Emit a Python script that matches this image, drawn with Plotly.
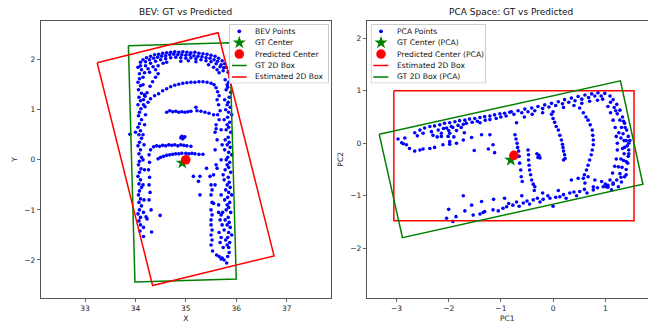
import plotly.graph_objects as go

W, H = 648, 326

# ---------------- BEV data (X, Y) ----------------
bev_top_arch = [
    (34.05, 1.85), (34.10, 1.95), (34.15, 2.00), (34.22, 2.04), (34.30, 2.07), (34.38, 2.10), (34.46, 2.11),
    (34.54, 2.13), (34.62, 2.14), (34.70, 2.15), (34.78, 2.16), (34.86, 2.15), (34.94, 2.16), (35.02, 2.15),
    (35.10, 2.14), (35.18, 2.15), (35.26, 2.13), (35.34, 2.12), (35.42, 2.11), (35.50, 2.09), (35.58, 2.07),
    (35.65, 2.03), (35.72, 1.98), (35.77, 1.92), (35.80, 1.85),
    (34.10, 1.88), (34.20, 1.96), (34.28, 2.00), (34.36, 2.03), (34.44, 2.05), (34.52, 2.07), (34.60, 2.08),
    (34.68, 2.10), (34.76, 2.11), (34.84, 2.10), (34.92, 2.10), (35.00, 2.09), (35.08, 2.10), (35.16, 2.08),
    (35.24, 2.07), (35.32, 2.06), (35.40, 2.04), (35.48, 2.03), (35.56, 2.00), (35.63, 1.97), (35.70, 1.90),
    (35.75, 1.84),
    (34.12, 1.80), (34.20, 1.88), (34.30, 1.93), (34.40, 1.97), (34.50, 2.00), (34.60, 2.02), (34.70, 2.04),
    (34.80, 2.05), (34.90, 2.04), (35.00, 2.03), (35.10, 2.04), (35.20, 2.02), (35.30, 2.00), (35.40, 1.98),
    (35.50, 1.96), (35.60, 1.92), (35.68, 1.86), (35.74, 1.78),
    (34.18, 1.74), (34.25, 1.82), (34.35, 1.86), (34.45, 1.88), (34.55, 1.93), (34.28, 1.75), (34.40, 1.80),
    (34.62, 1.95), (35.45, 1.90), (35.55, 1.85), (35.62, 1.80), (35.66, 1.74), (34.90, 1.97), (35.05, 1.98),
    (35.20, 1.96), (34.08, 1.72), (34.15, 1.65),
]

bev_left_side = [
    (34.08, 1.62), (34.05, 1.55), (34.10, 1.48), (34.06, 1.40), (34.12, 1.33), (34.07, 1.25), (34.10, 1.18),
    (34.05, 1.10), (34.11, 1.02), (34.08, 0.95), (34.06, 0.88), (34.12, 0.80), (34.08, 0.72), (34.05, 0.65),
    (34.10, 0.58), (34.07, 0.50), (34.12, 0.43), (34.08, 0.35), (34.05, 0.28), (34.10, 0.20), (34.07, 0.12),
    (34.12, 0.05), (34.08, -0.03), (34.06, -0.10), (34.11, -0.18), (34.08, -0.25), (34.05, -0.33), (34.10, -0.40),
    (34.07, -0.48), (34.12, -0.55), (34.08, -0.62), (34.06, -0.70), (34.10, -0.78), (34.07, -0.85), (34.12, -0.92),
    (34.08, -1.00), (34.05, -1.08), (34.10, -1.15), (34.07, -1.22), (34.10, -1.30),
    (34.15, 1.50), (34.18, 1.30), (34.16, 1.10), (34.20, 0.90), (34.18, 0.70), (34.15, 0.50), (34.17, 0.30),
    (34.15, 0.00), (34.18, -0.20), (34.15, -0.50), (34.17, -0.80), (34.16, -1.05),
    (34.45, 1.72), (34.40, 1.65), (34.34, 1.56), (34.29, 1.47), (34.23, 1.34), (34.19, 1.27), (34.16, 1.20),
    (34.27, 0.10), (34.28, -0.05), (34.26, -0.20), (34.28, -0.35), (34.27, -0.50), (34.29, -0.65), (34.27, -0.80),
    (34.31, -1.00), (34.21, -1.14), (34.23, -1.18), (34.49, -1.11), (34.16, -1.35), (34.09, -1.42),
    (34.32, -1.44), (34.16, -1.53), (33.89, 0.51), (34.00, 0.55),
]

bev_inner = [
    (34.19, 1.06), (34.25, 1.15), (34.30, 1.22), (34.38, 1.28), (34.46, 1.32), (34.54, 1.38), (34.62, 1.42),
    (34.70, 1.46), (34.78, 1.49), (34.86, 1.51), (34.94, 1.53), (35.02, 1.54), (35.10, 1.55), (35.18, 1.55),
    (35.26, 1.56), (35.34, 1.56), (35.42, 1.55), (35.50, 1.53), (35.56, 1.50),
    (34.62, 0.95), (34.68, 0.98), (34.74, 0.96), (34.80, 0.97), (34.86, 0.95), (34.92, 0.96), (34.98, 0.95),
    (35.04, 0.96), (35.10, 0.97), (35.20, 1.05), (35.22, 0.98), (35.30, 0.97), (35.38, 0.95), (35.46, 0.93),
    (35.55, 0.90),
    (34.92, 0.47), (34.96, 0.45), (34.94, 0.42), (34.98, 0.46), (34.90, 0.44),
    (34.30, 0.20), (34.36, 0.26), (34.42, 0.28), (34.48, 0.27), (34.54, 0.29), (34.60, 0.28), (34.66, 0.30),
    (34.72, 0.29), (34.78, 0.30), (34.84, 0.28), (34.90, 0.30), (34.96, 0.29), (35.02, 0.28), (35.10, 0.27),
    (34.45, 0.02), (34.50, 0.05), (34.56, 0.07), (34.62, 0.09), (34.68, 0.10), (34.74, 0.11), (34.80, 0.12),
    (34.86, 0.12), (34.92, 0.13), (35.00, 0.13), (35.06, 0.12), (35.12, 0.13), (35.18, 0.12), (35.26, 0.11),
    (35.34, 0.11),
    (35.15, -0.33), (35.25, -0.43), (35.28, -0.33), (35.41, -0.17), (35.48, -0.33), (35.28, -0.70),
    (35.55, -0.87), (35.58, -0.50),
]

bev_right_side = [
    (35.84, 1.75), (35.88, 1.65), (35.85, 1.55), (35.83, 1.45), (35.89, 1.35), (35.86, 1.25), (35.84, 1.15),
    (35.88, 1.05), (35.85, 0.95), (35.83, 0.85), (35.87, 0.75), (35.85, 0.65), (35.89, 0.55), (35.84, 0.45),
    (35.86, 0.35), (35.88, 0.25), (35.85, 0.15), (35.83, 0.05), (35.87, -0.05), (35.85, -0.15), (35.89, -0.25),
    (35.84, -0.35), (35.86, -0.45), (35.88, -0.55), (35.85, -0.65), (35.83, -0.75), (35.87, -0.85), (35.85, -0.95),
    (35.89, -1.05), (35.84, -1.15), (35.86, -1.25), (35.88, -1.35), (35.85, -1.45), (35.83, -1.55), (35.87, -1.65),
    (35.85, -1.75), (35.86, -1.85),
    (35.78, 1.60), (35.80, 1.40), (35.77, 1.20), (35.79, 1.00), (35.76, 0.80), (35.80, 0.60), (35.78, 0.40),
    (35.77, 0.20), (35.80, 0.00), (35.78, -0.20), (35.76, -0.40), (35.79, -0.60), (35.77, -0.80), (35.80, -1.00),
    (35.78, -1.20), (35.76, -1.40), (35.79, -1.60),
    (35.82, 1.50), (35.82, 1.10), (35.82, 0.70), (35.82, 0.30), (35.82, -0.10), (35.82, -0.50), (35.82, -0.90),
    (35.82, -1.30), (35.82, -1.70), (35.91, 0.90), (35.91, 0.10), (35.91, -0.70), (35.91, -1.50),
    (35.60, 1.44), (35.63, 1.36), (35.66, 1.28), (35.62, 1.20), (35.65, 1.10), (35.68, 0.98), (35.63, 0.90),
    (35.66, 0.80), (35.60, 0.70),
    (35.60, 0.62), (35.58, 0.55), (35.62, 0.40), (35.58, 0.20), (35.60, -0.10), (35.62, -0.17), (35.55, -0.30),
    (35.50, -0.50), (35.52, -0.60), (35.50, -0.70), (35.52, -0.85), (35.50, -1.00), (35.52, -1.10), (35.50, -1.20),
    (35.50, -1.30), (35.52, -1.40), (35.50, -1.50), (35.52, -1.60), (35.50, -1.70), (35.53, -1.82),
    (35.61, -1.90), (35.66, -1.93), (35.72, -1.96), (35.76, -2.00), (35.81, -2.06), (35.83, -1.93), (35.70, -1.98),
    (35.65, -1.05), (35.70, -1.10), (35.68, -1.20), (35.72, -1.30), (35.66, -1.45), (35.70, -1.55), (35.68, -1.65),
    (35.74, -1.75),
    (35.70, 0.60), (35.72, 0.30), (35.70, 0.00), (35.74, -0.30), (35.70, -0.70), (35.65, -0.90), (35.73, -1.05),
]

gt_center_bev = (34.93, -0.06)
pred_center_bev = (35.00, 0.00)
gt_box_bev_x = [33.86, 35.87, 36.00, 33.99, 33.86]
gt_box_bev_y = [2.28, 2.34, -2.38, -2.44, 2.28]
est_box_bev_x = [33.24, 35.64, 36.75, 34.34, 33.24]
est_box_bev_y = [1.94, 2.54, -1.92, -2.51, 1.94]

# ---------------- PCA data (PC1, PC2) ----------------
pca_upper_band = [
    (-2.65, 0.20), (-2.55, 0.25), (-2.46, 0.29), (-2.36, 0.32), (-2.27, 0.33), (-2.17, 0.35), (-2.08, 0.38),
    (-1.98, 0.39), (-1.88, 0.41), (-1.79, 0.43), (-1.69, 0.44), (-1.60, 0.46), (-1.50, 0.47), (-1.40, 0.49),
    (-1.31, 0.51), (-1.21, 0.52), (-1.12, 0.54), (-1.02, 0.56), (-0.93, 0.57), (-0.83, 0.59),
    (-2.60, 0.14), (-2.49, 0.19), (-2.33, 0.22), (-2.20, 0.25), (-2.14, 0.19), (-2.04, 0.29), (-1.98, 0.19),
    (-1.92, 0.30), (-1.82, 0.34), (-1.72, 0.36), (-1.66, 0.38), (-1.55, 0.40), (-1.45, 0.42), (-1.40, 0.39),
    (-1.30, 0.44), (-1.21, 0.45), (-1.09, 0.47), (-1.00, 0.50), (-0.90, 0.52),
    (-2.30, 0.15), (-2.22, 0.12), (-2.10, 0.28), (-2.00, 0.24), (-1.95, 0.32), (-1.90, 0.12), (-1.85, 0.24),
    (-1.76, 0.30), (-1.70, 0.20),
    (-2.14, 0.13), (-2.01, 0.13), (-1.98, 0.03), (-1.85, 0.00), (-1.72, 0.06), (-1.56, 0.11), (-1.37, 0.16),
    (-1.21, 0.16), (-1.15, -0.03), (-1.24, -0.11), (-1.12, -0.18), (-1.51, -0.14),
    (-2.97, 0.08), (-2.84, 0.10), (-2.90, 0.01), (-2.87, -0.01), (-2.81, -0.03), (-2.75, -0.10), (-2.65, -0.15),
    (-2.55, -0.13), (-2.49, -0.11), (-2.36, -0.10), (-2.27, -0.08), (-2.11, -0.03), (-1.98, -0.02),
    (-0.80, 0.60), (-0.67, 0.62), (-0.54, 0.65), (-0.41, 0.67), (-0.29, 0.70), (-0.16, 0.73), (-0.03, 0.76),
    (0.10, 0.79), (0.22, 0.83), (0.35, 0.86), (0.48, 0.89), (0.61, 0.92), (0.74, 0.94), (0.86, 0.96),
    (0.99, 0.95), (1.09, 0.90),
    (-0.75, 0.55), (-0.60, 0.58), (-0.48, 0.60), (-0.35, 0.62), (-0.20, 0.66), (-0.08, 0.69), (0.05, 0.72),
    (0.18, 0.75), (0.30, 0.78), (0.42, 0.81), (0.55, 0.84), (0.68, 0.87), (0.80, 0.90), (0.92, 0.90),
    (-0.55, 0.50), (-0.40, 0.55), (-0.20, 0.58), (0.00, 0.60), (0.20, 0.68), (0.40, 0.72), (0.55, 0.76),
    (0.70, 0.80), (0.85, 0.82), (0.95, 0.84),
]

pca_front_band = [
    (1.15, 0.83), (1.22, 0.74), (1.28, 0.63), (1.33, 0.50), (1.37, 0.38), (1.41, 0.25), (1.44, 0.13),
    (1.45, 0.00), (1.45, -0.13), (1.44, -0.25), (1.43, -0.38), (1.40, -0.50), (1.37, -0.64), (1.31, -0.74),
    (1.25, -0.83), (1.12, -0.89),
    (1.10, 0.78), (1.17, 0.68), (1.23, 0.56), (1.28, 0.44), (1.31, 0.30), (1.34, 0.18), (1.36, 0.05),
    (1.37, -0.08), (1.36, -0.20), (1.35, -0.33), (1.32, -0.46), (1.28, -0.58), (1.22, -0.70), (1.15, -0.78),
    (1.05, -0.84),
    (1.05, 0.70), (1.10, 0.58), (1.15, 0.44), (1.19, 0.30), (1.21, 0.13), (1.23, 0.00), (1.23, -0.13),
    (1.21, -0.30), (1.18, -0.44), (1.14, -0.57), (1.09, -0.70), (1.00, -0.78),
    (1.30, 0.10), (1.40, 0.05), (1.42, -0.05), (1.33, -0.10), (1.38, 0.30), (1.30, -0.30), (1.40, -0.35),
    (1.26, 0.20), (1.25, -0.45), (1.35, 0.42), (1.20, 0.62), (1.30, -0.65), (1.45, -0.20), (1.47, 0.05),
    (1.40, -0.60),
]

pca_inner_arcs = [
    (0.51, 0.67), (0.58, 0.58), (0.63, 0.50), (0.67, 0.44), (0.71, 0.35), (0.75, 0.25), (0.76, 0.15),
    (0.77, 0.06), (0.77, -0.03), (0.75, -0.13), (0.73, -0.22), (0.70, -0.32), (0.67, -0.42), (0.64, -0.51),
    (0.60, -0.60), (0.58, -0.67),
    (0.35, -0.70), (0.48, -0.67), (0.67, -0.64), (0.80, -0.70), (0.93, -0.73), (0.77, -0.83), (1.02, -0.83),
    (0.61, -0.76),
    (-0.03, 0.55), (0.00, 0.47), (0.03, 0.40), (0.06, 0.32), (0.10, 0.25), (0.13, 0.15), (0.16, 0.06),
    (0.18, -0.02), (0.19, -0.08), (0.20, -0.15), (0.22, -0.22), (0.23, -0.29), (0.20, -0.32),
    (-0.73, 0.16), (-0.71, 0.08), (-0.69, 0.00), (-0.68, -0.08), (-0.66, -0.15), (-0.65, -0.25), (-0.64, -0.38),
    (-0.62, -0.51), (-0.61, -0.64), (-0.59, -0.73),
    (-0.48, -0.13), (-0.47, -0.22), (-0.47, -0.32), (-0.46, -0.42), (-0.45, -0.51), (-0.43, -0.60),
    (-0.41, -0.70), (-0.38, -0.78), (-0.35, -0.83), (-0.36, -0.90),
    (-0.31, -0.20), (-0.27, -0.23), (-0.25, -0.28), (-0.29, -0.27), (-0.70, 0.39),
]

pca_lower_band = [
    (-1.72, -1.00), (-2.00, -1.26), (-2.04, -1.43), (-1.86, -1.40), (-1.92, -1.49), (-1.69, -1.29),
    (-1.56, -1.18), (-1.53, -1.37), (-1.40, -1.35), (-1.34, -1.32), (-1.37, -1.11), (-1.31, -1.30),
    (-1.15, -1.27), (-1.14, -1.07), (-1.05, -1.29), (-0.96, -1.24), (-0.93, -1.05), (-0.89, -1.21),
    (-0.77, -1.18), (-0.57, -1.14), (-0.38, -1.08), (-0.19, -1.07), (-0.06, -1.05), (0.13, -1.02),
    (0.32, -0.95), (0.51, -0.92), (0.77, -0.89), (0.96, -0.83), (1.15, -0.76),
    (-0.85, -1.15), (-0.70, -1.12), (-0.65, -1.20), (-0.50, -1.10), (-0.45, -1.16), (-0.30, -1.05),
    (-0.25, -1.12), (-0.10, -1.00), (0.00, -1.20), (0.05, -1.03), (0.20, -0.98), (0.25, -1.05), (0.40, -0.93),
    (0.45, -1.00), (0.60, -0.88), (0.65, -0.95), (0.85, -0.85), (1.05, -0.80), (-0.60, -1.00), (-0.20, -0.95),
    (0.10, -0.90),
]

gt_center_pca = (-0.81, -0.32)
pred_center_pca = (-0.75, -0.23)
est_box_pca_x = [-3.05, 1.55, 1.55, -3.05, -3.05]
est_box_pca_y = [1.00, 1.00, -1.48, -1.48, 1.00]
gt_box_pca_x = [-3.33, 1.29, 1.72, -2.885, -3.33]
gt_box_pca_y = [0.17, 1.19, -0.78, -1.80, 0.17]

BLUE, GREEN, RED = "#0000ff", "#008000", "#ff0000"
FONT = "DejaVu Sans"


def unzip(*segments):
    xs, ys = [], []
    for seg in segments:
        for x, y in seg:
            xs.append(x)
            ys.append(y)
    return xs, ys


bev_x, bev_y = unzip(bev_top_arch, bev_left_side, bev_inner, bev_right_side)
pca_x, pca_y = unzip(pca_upper_band, pca_front_band, pca_inner_arcs, pca_lower_band)

fig = go.Figure()


def add_panel(fig, xa, ya, px, py, gtc, prc, box_a, box_b):
    fig.add_trace(go.Scatter(x=px, y=py, mode="markers", xaxis=xa, yaxis=ya,
                             marker=dict(color=BLUE, size=3.6, line=dict(width=0)),
                             showlegend=False, hoverinfo="skip"))
    fig.add_trace(go.Scatter(x=[gtc[0]], y=[gtc[1]], mode="markers", xaxis=xa, yaxis=ya,
                             marker=dict(color=GREEN, size=10, symbol="star", line=dict(width=0)),
                             showlegend=False))
    fig.add_trace(go.Scatter(x=[prc[0]], y=[prc[1]], mode="markers", xaxis=xa, yaxis=ya,
                             marker=dict(color=RED, size=9.5, line=dict(width=0)),
                             showlegend=False))
    for bx, by, col in (box_a, box_b):
        fig.add_trace(go.Scatter(x=bx, y=by, mode="lines", xaxis=xa, yaxis=ya,
                                 line=dict(color=col, width=1.5), showlegend=False))


add_panel(fig, "x", "y", bev_x, bev_y, gt_center_bev, pred_center_bev,
          (gt_box_bev_x, gt_box_bev_y, GREEN), (est_box_bev_x, est_box_bev_y, RED))
add_panel(fig, "x2", "y2", pca_x, pca_y, gt_center_pca, pred_center_pca,
          (est_box_pca_x, est_box_pca_y, RED), (gt_box_pca_x, gt_box_pca_y, GREEN))

# --------- legends (drawn in pixel-space overlay axes) ---------
annotations = []


def add_legend(idx, box, entries, mx, lx0, lx1, tx):
    x0, y0, x1, y1 = box
    xa, ya = f"x{idx}", f"y{idx}"
    fig.add_trace(go.Scatter(x=[x0 + 0.5, x1 - 0.5, x1 - 0.5, x0 + 0.5, x0 + 0.5],
                             y=[y0 + 0.5, y0 + 0.5, y1 - 0.5, y1 - 0.5, y0 + 0.5],
                             mode="lines", fill="toself", fillcolor="rgba(255,255,255,0.85)",
                             line=dict(color="#cccccc", width=1), xaxis=xa, yaxis=ya,
                             showlegend=False, hoverinfo="skip"))
    for kind, label, col, yy in entries:
        if kind == "line":
            fig.add_trace(go.Scatter(x=[lx0, lx1], y=[yy, yy], mode="lines", xaxis=xa, yaxis=ya,
                                     line=dict(color=col, width=1.5), showlegend=False, hoverinfo="skip"))
        else:
            size = {"dot": 3.8, "star": 10, "circle": 9.5}[kind]
            sym = "star" if kind == "star" else "circle"
            fig.add_trace(go.Scatter(x=[mx], y=[yy], mode="markers", xaxis=xa, yaxis=ya,
                                     marker=dict(color=col, size=size, symbol=sym, line=dict(width=0)),
                                     showlegend=False, hoverinfo="skip"))
        annotations.append(dict(x=tx, y=yy, xref=xa, yref=ya, text=label, showarrow=False,
                                xanchor="left", yanchor="middle",
                                font=dict(family=FONT, size=7.6, color="#111111")))
    fig.layout[f"xaxis{idx}"] = dict(domain=[x0 / W, x1 / W], range=[x0, x1], visible=False,
                                     anchor=ya, fixedrange=True)
    fig.layout[f"yaxis{idx}"] = dict(domain=[(H - y1) / H, (H - y0) / H], range=[y1, y0],
                                     visible=False, anchor=xa, fixedrange=True)


add_legend(3, (229, 24, 329, 83.5), [
    ("dot", "BEV Points", BLUE, 31.3),
    ("star", "GT Center", GREEN, 42.7),
    ("circle", "Predicted Center", RED, 54.1),
    ("line", "GT 2D Box", GREEN, 65.5),
    ("line", "Estimated 2D Box", RED, 76.9),
], mx=239.3, lx0=232, lx1=246.7, tx=252.5)

add_legend(4, (370.7, 24, 486, 83.5), [
    ("dot", "PCA Points", BLUE, 31.3),
    ("star", "GT Center (PCA)", GREEN, 42.7),
    ("circle", "Predicted Center (PCA)", RED, 54.1),
    ("line", "Estimated 2D Box", RED, 65.5),
    ("line", "GT 2D Box (PCA)", GREEN, 76.9),
], mx=381, lx0=373.3, lx1=388.3, tx=394.5)

# --------- axes ---------
tickfont = dict(family=FONT, size=7.5, color="#222222")
common = dict(showgrid=False, zeroline=False, showline=True, linecolor="#555555", linewidth=1,
              ticks="outside", ticklen=3, tickwidth=0.8, tickcolor="#444444", tickfont=tickfont)
ydom = [(H - 298) / H, (H - 20.7) / H]

fig.update_layout(
    xaxis=dict(domain=[40.7 / W, 331 / W], range=[32.12, 37.88], tickvals=[33, 34, 35, 36, 37],
               mirror=True, anchor="y",
               title=dict(text="X", font=dict(family=FONT, size=7.5, color="#222222"), standoff=3), **common),
    yaxis=dict(domain=ydom, range=[-2.76, 2.78], tickvals=[-2, -1, 0, 1, 2], mirror=True, anchor="x",
               title=dict(text="Y", font=dict(family=FONT, size=7.5, color="#222222"), standoff=5), **common),
    xaxis2=dict(domain=[366.7 / W, 1.0], range=[-3.57, 1.818], tickvals=[-3, -2, -1, 0, 1],
                mirror=True, anchor="y2",
                title=dict(text="PC1", font=dict(family=FONT, size=7.5, color="#222222"), standoff=3), **common),
    yaxis2=dict(domain=ydom, range=[-2.95, 2.335], tickvals=[-2, -1, 0, 1, 2], mirror=False, anchor="x2",
                title=dict(text="PC2", font=dict(family=FONT, size=7.5, color="#222222"), standoff=5), **common),
)

annotations.append(dict(x=185.8 / W, y=(H - 12.3) / H, xref="paper", yref="paper",
                        text="BEV: GT vs Predicted", showarrow=False, xanchor="center", yanchor="middle",
                        font=dict(family=FONT, size=9, color="#111111")))
annotations.append(dict(x=511.3 / W, y=(H - 12.3) / H, xref="paper", yref="paper",
                        text="PCA Space: GT vs Predicted", showarrow=False, xanchor="center", yanchor="middle",
                        font=dict(family=FONT, size=9, color="#111111")))

fig.update_layout(width=W, height=H, margin=dict(l=0, r=0, t=0, b=0),
                  paper_bgcolor="white", plot_bgcolor="white", showlegend=False,
                  annotations=annotations, font=dict(family=FONT))

fig.write_html("out.html", config={"displayModeBar": False, "staticPlot": True},
               post_script="document.body.style.margin='0px';document.body.style.overflow='hidden';")
